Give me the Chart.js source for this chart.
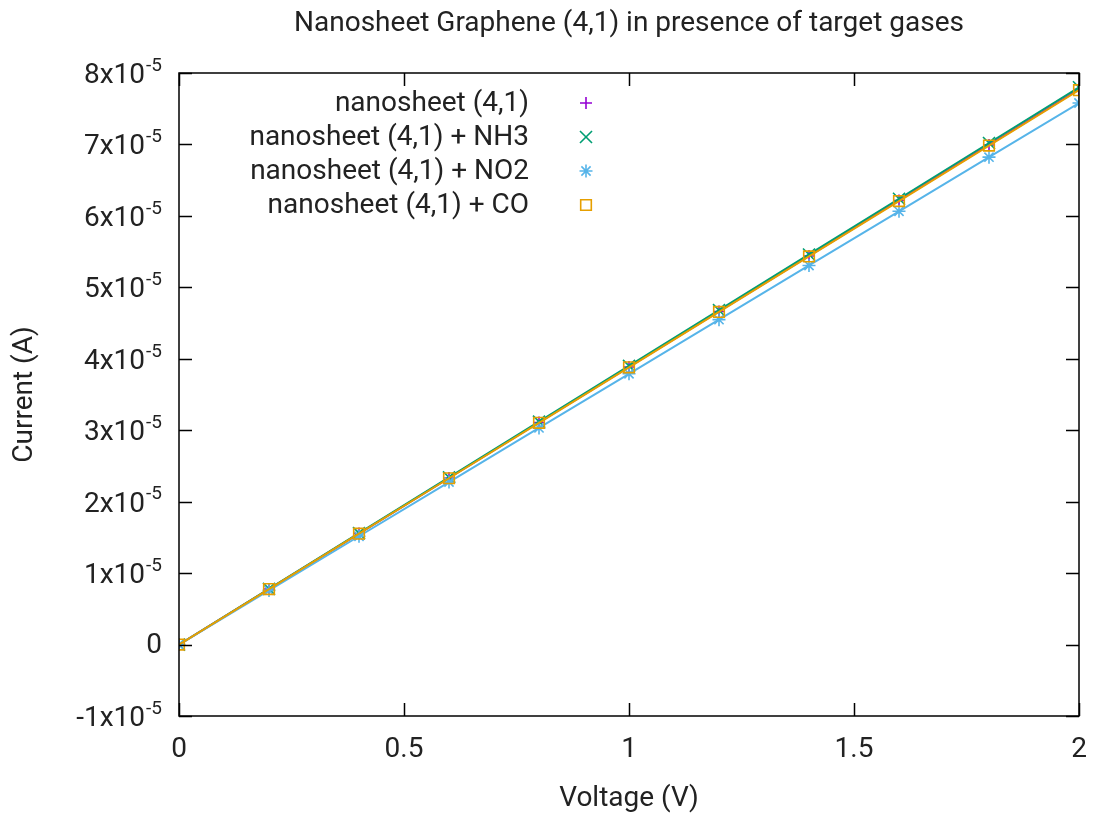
<!DOCTYPE html>
<html>
<head>
<meta charset="utf-8">
<title>Nanosheet Graphene (4,1)</title>
<script src="https://cdn.jsdelivr.net/npm/chart.js@4/dist/chart.umd.min.js"></script>
<style>
  html, body { margin: 0; padding: 0; background: #fff; }
  #wrap { width: 1095px; height: 818px; }
</style>
</head>
<body>
<div id="wrap"><canvas id="ivChart" width="1095" height="818"></canvas></div>
<script>
"use strict";

// voltage sweep (V)
const voltage = [0, 0.2, 0.4, 0.6, 0.8, 1.0, 1.2, 1.4, 1.6, 1.8, 2.0];

// current (A)
const currentPure = [0, 0.777e-5, 1.554e-5, 2.331e-5, 3.108e-5, 3.885e-5, 4.662e-5, 5.439e-5, 6.216e-5, 6.993e-5, 7.77e-5];
const currentNH3 = [0, 0.780e-5, 1.560e-5, 2.340e-5, 3.120e-5, 3.900e-5, 4.680e-5, 5.460e-5, 6.240e-5, 7.020e-5, 7.80e-5];
const currentNO2 = [0, 0.758e-5, 1.516e-5, 2.274e-5, 3.032e-5, 3.790e-5, 4.548e-5, 5.306e-5, 6.064e-5, 6.822e-5, 7.58e-5];
const currentCO = [0, 0.776e-5, 1.552e-5, 2.328e-5, 3.104e-5, 3.880e-5, 4.656e-5, 5.432e-5, 6.208e-5, 6.984e-5, 7.76e-5];

const seriesLabels = ["nanosheet (4,1)", "nanosheet (4,1) + NH3", "nanosheet (4,1) + NO2", "nanosheet (4,1) + CO"];
const seriesColors = ["#9400d3", "#009e73", "#56b4e9", "#e69f00"];
const seriesMarkers = ["cross", "crossRot", "star", "rect"];
const markerSizes = [6, 8.5, 6.5, 7.5];

const xTicks = [0, 0.5, 1, 1.5, 2];
const yTickMantissa = [-1, 0, 1, 2, 3, 4, 5, 6, 7, 8];

const FONT = "Roboto";
const FS = 28;
const TICK_LEN = 13;

function toPoints(ys) {
    return voltage.map((v, i) => ({x: v, y: ys[i]}));
}

const allSeries = [currentPure, currentNH3, currentNO2, currentCO];
const datasets = allSeries.map((ys, i) => ({
    label: seriesLabels[i],
    data: toPoints(ys),
    order: allSeries.length - i,   // later series drawn on top, like gnuplot
    borderColor: seriesColors[i],
    backgroundColor: "rgba(0,0,0,0)",
    borderWidth: 2,
    pointStyle: seriesMarkers[i],
    pointRadius: markerSizes[i],
    pointBorderWidth: 1.6,
    pointBorderColor: seriesColors[i],
    pointBackgroundColor: "rgba(0,0,0,0)",
    tension: 0
}));

// gnuplot style frame, inward ticks on all four sides, superscript y labels, title, key
const gnuplotLook = {
    id: "gnuplotLook",
    afterDraw(chart) {
        const ctx = chart.ctx;
        const a = chart.chartArea;
        const xs = chart.scales.x;
        const ys = chart.scales.y;
        ctx.save();
        ctx.strokeStyle = "#000";
        ctx.lineWidth = 1.5;
        ctx.strokeRect(a.left, a.top, a.right - a.left, a.bottom - a.top);

        ctx.beginPath();
        xTicks.forEach(v => {
            const px = Math.round(xs.getPixelForValue(v)) + 0.5;
            ctx.moveTo(px, a.bottom); ctx.lineTo(px, a.bottom - TICK_LEN);
            ctx.moveTo(px, a.top); ctx.lineTo(px, a.top + TICK_LEN);
        });
        yTickMantissa.forEach(m => {
            const py = Math.round(ys.getPixelForValue(m * 1e-5)) + 0.5;
            ctx.moveTo(a.left, py); ctx.lineTo(a.left + TICK_LEN, py);
            ctx.moveTo(a.right, py); ctx.lineTo(a.right - TICK_LEN, py);
        });
        ctx.stroke();

        // y tick labels with real superscript exponent
        ctx.fillStyle = "#222";
        const labelRight = a.left - 17;
        yTickMantissa.forEach(m => {
            const py = ys.getPixelForValue(m * 1e-5);
            ctx.textAlign = "right";
            ctx.textBaseline = "middle";
            if (m === 0) {
                ctx.font = FS + "px " + FONT;
                ctx.fillText("0", labelRight, py + 1);
                return;
            }
            ctx.font = "19px " + FONT;
            const expW = ctx.measureText("-5").width;
            ctx.fillText("-5", labelRight, py - 7);
            ctx.font = FS + "px " + FONT;
            ctx.fillText(m + "x10", labelRight - expW - 1, py + 3);
        });

        // title centred over the plot area
        ctx.font = FS + "px " + FONT;
        ctx.textAlign = "center";
        ctx.textBaseline = "middle";
        ctx.fillText("Nanosheet Graphene (4,1) in presence of target gases", (a.left + a.right) / 2, 24);

        // key: right aligned text, marker to its right
        const keyTextRight = 529;
        const keyMarkX = 586;
        const keyRows = [103, 137, 171, 205];
        seriesLabels.forEach((lab, i) => {
            ctx.font = FS + "px " + FONT;
            ctx.textAlign = "right";
            ctx.fillStyle = "#222";
            ctx.fillText(lab, keyTextRight, keyRows[i] + 1);
            ctx.strokeStyle = seriesColors[i];
            ctx.fillStyle = "rgba(0,0,0,0)";
            ctx.lineWidth = 1.6;
            Chart.helpers.drawPoint(ctx, {
                pointStyle: seriesMarkers[i],
                radius: markerSizes[i],
                rotation: 0,
                borderWidth: 1.6
            }, keyMarkX, keyRows[i]);
        });
        ctx.restore();
    }
};

const ivChart = new Chart(document.getElementById("ivChart"), {
    type: "line",
    data: {datasets: datasets},
    plugins: [gnuplotLook],
    options: {
        responsive: false,
        animation: false,
        devicePixelRatio: 1,
        layout: {padding: {top: 73, right: 16, left: 0, bottom: 0}},
        plugins: {
            legend: {display: false},
            title: {display: false},
            tooltip: {enabled: false}
        },
        scales: {
            x: {
                type: "linear",
                min: 0,
                max: 2,
                grid: {display: false, drawTicks: false},
                border: {display: false},
                ticks: {
                    stepSize: 0.5,
                    padding: 17,
                    color: "#222",
                    font: {family: FONT, size: FS},
                    callback: v => String(v)
                },
                title: {
                    display: true,
                    text: "Voltage (V)",
                    color: "#222",
                    font: {family: FONT, size: FS},
                    padding: {top: 0, bottom: 2}
                },
                afterFit: s => {
                    s.height = 102;
                    s.paddingLeft = 0;
                    s.paddingRight = 0;
                }
            },
            y: {
                type: "linear",
                min: -1e-5,
                max: 8e-5,
                grid: {display: false, drawTicks: false},
                border: {display: false},
                ticks: {
                    stepSize: 1e-5,
                    display: false
                },
                title: {
                    display: true,
                    text: "Current (A)",
                    color: "#222",
                    font: {family: FONT, size: FS},
                    padding: {top: 8, bottom: 0}
                },
                afterFit: s => {
                    s.width = 179;
                    s.paddingTop = 0;
                    s.paddingBottom = 0;
                }
            }
        }
    }
});
</script>
</body>
</html>
